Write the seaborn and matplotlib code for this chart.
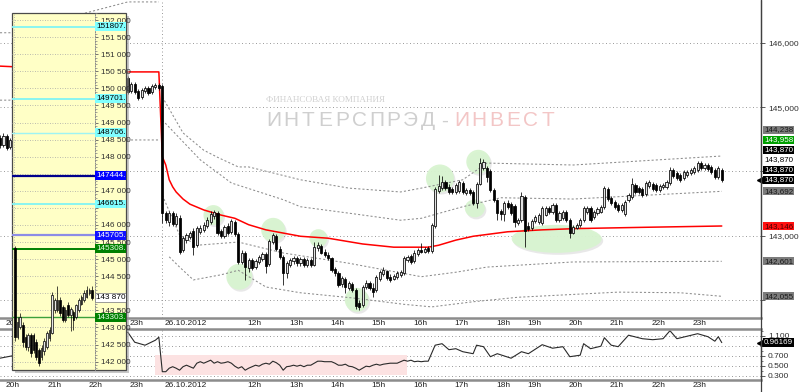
import numpy as np
import matplotlib
matplotlib.use("Agg")
import matplotlib.pyplot as plt
import matplotlib.transforms as mtransforms
from matplotlib.patches import Rectangle, Ellipse
from matplotlib.lines import Line2D
from matplotlib.ticker import FuncFormatter, MultipleLocator, FixedLocator
from matplotlib import font_manager
import seaborn as sns

# ---------------------------------------------------------------- data
# x = 5-minute bar slot; 0 = 26.10.2012 10:00 (12 bars / hour, 18:45-19:00 break)
tick_slots = [-46, -34, -22, -10, 0, 24, 36, 48, 60, 72, 84, 96, 105, 117, 129, 141, 153]
tick_labels = ["20h", "21h", "22h", "23h", "26.10.2012", "12h", "13h", "14h", "15h",
               "16h", "17h", "18h", "19h", "20h", "21h", "22h", "23h"]

prev_slot = [-47, -46, -45, -44, -10, -9, -8, -7, -6, -5, -4, -3, -2, -1]
prev_open = [144520, 144410, 144550, 144380, 145460, 145250, 145360, 145250, 145160, 145250, 145300, 145240, 145320, 145350]
prev_high = [144570, 144600, 144580, 144520, 145490, 145390, 145390, 145280, 145300, 145330, 145330, 145360, 145380, 145380]
prev_low = [144360, 144380, 144330, 144350, 145210, 145220, 145210, 145110, 145130, 145220, 145190, 145210, 145280, 145270]
prev_close = [144410, 144550, 144360, 144490, 145240, 145360, 145240, 145140, 145270, 145300, 145220, 145330, 145350, 145300]

day_open = [
    145330, 143350, 143210, 143350, 143180, 143270, 142780, 142930, 142980, 143070,
    142850, 143060, 143090, 143150, 143210, 143310, 143350, 143070, 142990, 143150,
    143060, 143210, 143030, 142590, 142730, 142500, 142620, 142510, 142590, 142640,
    142710, 142560, 142900, 142990, 142790, 142670, 142420, 142540, 142600, 142650,
    142570, 142640, 142540, 142620, 142540, 142810, 142840, 142740, 142700, 142650,
    142480, 142420, 142250, 142320, 142180, 142250, 142150, 141950, 141920, 142200,
    142260, 142180, 142150, 142320, 142400, 142450, 142360, 142320, 142360, 142390,
    142420, 142620, 142680, 142600, 142710, 142780, 142740, 142810, 142760, 143150,
    143700, 143740, 143840, 143760, 143730, 143680, 143700, 143820, 143660, 143710,
    143680, 143510, 143800, 144050, 144050, 144010, 143710, 143560, 143380, 143340,
    143510, 143490, 143460, 143200, 143240, 143600, 143150, 143120, 143230, 143210,
    143200, 143320, 143430, 143370, 143480, 143240, 143270, 143370, 143240, 143040,
    143120, 143170, 143240, 143370, 143430, 143290, 143350, 143370, 143450, 143730,
    143590, 143520, 143480, 143400, 143340, 143560, 143600, 143790, 143740, 143730,
    143650, 143770, 143800, 143790, 143710, 143760, 143760, 143820, 144020, 143980,
    143940, 143900, 143940, 143980, 143990, 144020, 144130, 144050, 144100, 144070,
    144020, 143910, 144020]
day_close = [
    143350, 143240, 143350, 143180, 143310, 142740, 142960, 143010, 143040, 142820,
    143120, 143120, 143170, 143240, 143340, 143370, 143040, 142990, 143130, 143040,
    143230, 143030, 142590, 142730, 142510, 142620, 142500, 142600, 142670, 142710,
    142530, 142920, 143010, 142790, 142670, 142420, 142570, 142620, 142650, 142570,
    142640, 142540, 142620, 142540, 142820, 142850, 142730, 142700, 142650, 142460,
    142420, 142230, 142340, 142200, 142260, 142150, 141900, 141890, 142200, 142260,
    142180, 142120, 142360, 142430, 142460, 142340, 142310, 142370, 142420, 142430,
    142650, 142670, 142590, 142730, 142780, 142740, 142790, 142760, 143170, 143730,
    143770, 143840, 143740, 143680, 143680, 143790, 143840, 143680, 143710, 143660,
    143510, 143800, 144130, 144150, 143910, 143710, 143560, 143350, 143340, 143510,
    143450, 143350, 143210, 143240, 143620, 143070, 143100, 143230, 143290, 143320,
    143430, 143430, 143370, 143480, 143240, 143350, 143370, 143240, 143040, 143130,
    143170, 143240, 143430, 143430, 143240, 143370, 143420, 143450, 143740, 143570,
    143510, 143450, 143400, 143480, 143520, 143630, 143800, 143680, 143680, 143630,
    143820, 143840, 143730, 143710, 143770, 143790, 143840, 144020, 143930, 143900,
    143870, 143990, 143990, 144020, 144050, 144130, 144050, 144100, 144040, 143990,
    143910, 144050, 143870]
day_high = [
    145360, 143380, 143380, 143380, 143350, 143320, 142990, 143040, 143070, 143120,
    143150, 143170, 143210, 143290, 143380, 143400, 143380, 143100, 143170, 143200,
    143260, 143240, 143060, 142780, 142760, 142650, 142650, 142640, 142700, 142740,
    142740, 142950, 143040, 143030, 142840, 142700, 142600, 142650, 142680, 142680,
    142670, 142670, 142650, 142650, 142900, 142900, 142870, 142790, 142740, 142670,
    142510, 142450, 142370, 142360, 142290, 142280, 142180, 142000, 142230, 142310,
    142290, 142260, 142390, 142460, 142510, 142460, 142400, 142400, 142450, 142460,
    142680, 142700, 142710, 142780, 142810, 142890, 142820, 142840, 143200, 143760,
    143940, 143930, 143870, 143800, 143760, 143820, 143870, 143850, 143740, 143740,
    143710, 143840, 144210, 144190, 144080, 144040, 143740, 143570, 143420, 143540,
    143560, 143520, 143490, 143270, 143680, 143630, 143210, 143260, 143320, 143350,
    143460, 143460, 143460, 143510, 143510, 143380, 143400, 143400, 143270, 143170,
    143200, 143270, 143460, 143460, 143460, 143400, 143450, 143480, 143770, 143760,
    143620, 143560, 143510, 143510, 143560, 143660, 143900, 143820, 143770, 143760,
    143850, 143870, 143840, 143820, 143800, 143820, 143870, 144070, 144050, 144010,
    143980, 144020, 144020, 144050, 144080, 144160, 144160, 144130, 144130, 144100,
    144050, 144080, 144050]
day_low = [
    143200, 143200, 143150, 143150, 143150, 142710, 142740, 142890, 142950, 142700,
    142820, 143030, 143060, 143120, 143180, 143260, 143010, 142960, 142960, 143010,
    143030, 142990, 142560, 142560, 142310, 142430, 142460, 142480, 142560, 142600,
    142420, 142530, 142870, 142760, 142640, 142230, 142340, 142510, 142560, 142530,
    142530, 142510, 142510, 142510, 142530, 142760, 142710, 142670, 142620, 142430,
    142370, 142200, 142200, 142110, 142150, 142120, 141860, 141840, 141890, 142170,
    142150, 142040, 142120, 142290, 142370, 142310, 142280, 142310, 142320, 142360,
    142390, 142590, 142560, 142570, 142680, 142730, 142730, 142730, 142730, 143120,
    143660, 143710, 143710, 143650, 143650, 143650, 143660, 143650, 143630, 143630,
    143480, 143430, 143790, 144020, 143840, 143680, 143520, 143240, 143240, 143230,
    143420, 143320, 143130, 143170, 143210, 142820, 143070, 143090, 143200, 143180,
    143170, 143310, 143340, 143340, 143210, 143210, 143240, 143210, 142960, 143030,
    143100, 143130, 143210, 143340, 143210, 143260, 143320, 143350, 143420, 143540,
    143480, 143420, 143370, 143370, 143310, 143520, 143570, 143650, 143650, 143600,
    143620, 143740, 143700, 143680, 143680, 143730, 143730, 143790, 143900, 143870,
    143840, 143870, 143910, 143940, 143960, 143990, 144020, 144020, 144010, 143960,
    143880, 143880, 143840]

# VWAP (red) and deviation bands (dotted), read at selected bar slots
vwap_k = [-47, -10, -1, 0, 1, 2, 3, 4, 6, 8, 12, 17, 21, 25, 30, 40, 48, 58, 67, 77, 80, 85, 90, 100, 110, 120, 140, 162]
vwap_v = [145640, 145550, 145550, 144230, 144100, 143870, 143760, 143680, 143570, 143490, 143400, 143320, 143270,
          143170, 143090, 142990, 142960, 142870, 142820, 142820, 142850, 142930, 142990, 143060, 143090, 143110, 143130, 143150]
up2_k = [0, 6, 12, 16, 22, 25, 40, 54, 69, 75, 87, 94, 119, 162]
up2_v = [145160, 144600, 144330, 144220, 144070, 144070, 143870, 143740, 143680, 143740, 143870, 144130, 144100, 144240]
up1_k = [0, 11, 20, 35, 40, 54, 69, 75, 87, 98, 119, 162]
up1_v = [144800, 144180, 143820, 143560, 143450, 143350, 143240, 143270, 143450, 143590, 143570, 143690]
lo1_k = [0, 5, 10, 22, 35, 54, 75, 85, 94, 119, 162]
lo1_v = [143630, 143010, 142850, 142900, 142730, 142570, 142360, 142430, 142510, 142590, 142600]
lo2_k = [2, 5, 9, 17, 22, 30, 40, 55, 70, 78, 90, 103, 132, 150, 162]
lo2_v = [142670, 142510, 142310, 142390, 142460, 142200, 142110, 142030, 141930, 141890, 141970, 142040, 142120, 142110, 142055]
prev_up_k = [-47, -44, -10, -1]
prev_up_v = [146160, 146160, 146640, 146640]
prev_lo_k = [-47, -44, -10, -1]
prev_lo_v = [145110, 145110, 144490, 144490]

# price tags on the right scale (bottom -> top)
tag_values = [142055, 142601, 143146, 143692, 143870, 143870, 143870, 143870, 143958, 144238]
tag_fc = ["#7c7c7c", "#7c7c7c", "#ff1010", "#7c7c7c", "#000000", "#000000", "#ffffff", "#000000", "#00a000", "#7c7c7c"]
tag_tc = ["#1a1a1a", "#1a1a1a", "#4a0000", "#1a1a1a", "#ffffff", "#ffffff", "#000000", "#ffffff", "#ffffff", "#1a1a1a"]
tag_arrow = [False, False, False, False, True, False, False, False, False, False]

# lower indicator
ind_k = [-47, -44, -10, -8, -5, -2, -1,
         0, 1, 2, 3, 4, 5, 6, 7, 8, 9, 10, 11, 12, 13, 14, 15, 16, 17, 18, 19, 20, 21, 22, 23, 24,
         25, 26, 27, 28, 29, 30, 31, 32, 33, 34, 35, 36, 37, 38, 39, 40, 41, 42, 43, 44, 45, 46, 47,
         48, 49, 50, 51, 52, 53, 54, 55, 56, 57, 58, 59, 60, 61, 62, 63, 64, 66, 68, 70, 71, 72, 73,
         74, 75, 76, 77, 78, 79, 81, 83, 85, 87, 90, 91, 93, 95, 97, 101, 104, 106, 110, 113, 116,
         118, 121, 122, 124, 127, 128, 130, 132, 135, 139, 142, 145, 147, 149, 155, 158, 160, 161, 162]
ind_v = [0.65, 0.69, 1.17, 0.97, 0.91, 1.01, 1.07,
         0.38, 0.38, 0.45, 0.48, 0.45, 0.41, 0.48, 0.51, 0.48, 0.45, 0.55, 0.58, 0.55, 0.58, 0.61, 0.55,
         0.58, 0.55, 0.56, 0.58, 0.55, 0.49, 0.45, 0.48, 0.41,
         0.45, 0.48, 0.51, 0.49, 0.53, 0.55, 0.53, 0.59, 0.56, 0.51, 0.41, 0.48, 0.49, 0.51, 0.49, 0.51,
         0.48, 0.51, 0.51, 0.55, 0.59, 0.59, 0.58,
         0.58, 0.58, 0.55, 0.51, 0.51, 0.53, 0.49, 0.48, 0.45, 0.41, 0.45, 0.49, 0.48, 0.51, 0.53, 0.51,
         0.53, 0.55, 0.55, 0.61, 0.59, 0.61, 0.58,
         0.59, 0.58, 0.59, 0.59, 0.75, 0.91, 0.94, 0.82, 0.84, 0.78, 0.74, 0.91, 0.88, 0.68, 0.74, 0.65,
         0.78, 0.74, 0.92, 0.85, 0.88,
         0.68, 0.71, 0.94, 0.84, 0.89, 1.06, 0.91, 0.88, 1.11, 1.04, 1.02, 1.04, 1.20, 1.04, 1.14, 1.08,
         0.99, 1.08, 0.96169]
ind_last = 0.96169

# inset (yellow panel)
inset_open = [145330, 142730, 143020, 143070, 142730, 142440, 142780, 142780, 142580, 142340, 142150, 142300, 142440, 142700, 142840,
              143500, 143510, 143800, 143600, 143220, 143660, 143360, 143450, 143300, 143500, 143700, 143800, 143900, 144000, 144100]
inset_close = [142730, 143170, 143320, 142580, 142440, 142780, 142240, 142340, 142150, 141950, 142400, 142600, 142840, 142930, 143950,
               143800, 143800, 143420, 143220, 143500, 143360, 143550, 143220, 143660, 143800, 143900, 144000, 144100, 144100, 143870]
inset_high = [145380, 143320, 143420, 143170, 142800, 142850, 142850, 142850, 142650, 142400, 142480, 142680, 142900, 143000, 144050,
              143850, 144210, 143900, 143650, 143600, 143750, 143600, 143500, 143700, 143850, 143950, 144100, 144200, 144150, 144200]
inset_low = [142600, 142650, 142950, 142440, 142350, 142300, 142150, 142250, 142050, 141870, 142050, 142200, 142380, 142600, 142800,
             143420, 143450, 143350, 143150, 143150, 143300, 142900, 142930, 143250, 143450, 143650, 143750, 143850, 143950, 143800]
inset_levels = [151807, 149701, 148706, 147444, 146615, 145705, 145308, 143303]
inset_level_text = ["151807.", "149701.", "148706.", "147444.", "146615.", "145705.", "145308.", "143303."]
inset_level_color = ["#80f4f4", "#80f4f4", "#9ef4f4", "#00008c", "#80f4f4", "#8c8ce6", "#008000", "#3ca03c"]
inset_level_lw = [1.3, 1.3, 1.0, 1.6, 1.3, 1.6, 1.4, 1.0]
inset_tag_fc = ["#80ffff", "#80ffff", "#80ffff", "#0000ff", "#80ffff", "#1010ff", "#008000", "#008000"]
inset_tag_tc = ["#000000", "#000000", "#000000", "#ffffff", "#000000", "#ffffff", "#e8ffe8", "#e8ffe8"]
inset_last = 143870

# annotations: green highlight circles (slot, price, rx px, ry px)
circles = [(14.8, 143320, 10, 10), (32.1, 143090, 12, 12), (22.3, 142360, 13, 13), (45.2, 142960, 9, 9),
           (56.3, 142000, 12, 12), (80.4, 143890, 14, 14), (91.5, 144150, 12, 12), (90.5, 143425, 10, 9),
           (114.2, 142950, 45, 14)]

# watermark text
wm_small = "ФИНАНСОВАЯ КОМПАНИЯ"
wm_grey = "ИНТЕРСПРЭД-"
wm_red = "ИНВЕСТ"

# ---------------------------------------------------------------- style
sns.set_style("white")
installed = {f.name for f in font_manager.fontManager.ttflist}
BASE = [f for f in ["Liberation Sans"] if f in installed] + ["DejaVu Sans"]
NARROW = (["Liberation Sans Narrow"] if "Liberation Sans Narrow" in installed else []) + BASE
SERIF = [f for f in ["Liberation Serif"] if f in installed] + ["DejaVu Serif"]
plt.rcParams["font.family"] = BASE

W, H = 800, 392
fig = plt.figure(figsize=(W / 100, H / 100), dpi=100)
fig.patch.set_facecolor("white")


def rect(x0, y0, x1, y1):
    return [x0 / W, 1 - y1 / H, (x1 - x0) / W, (y1 - y0) / H]


ax = fig.add_axes(rect(0, 0, 761, 318))
ax2 = fig.add_axes(rect(0, 329, 761, 380))
XL = (-47.0, 173.36)
YL = (141717, 146670)
ax.set_xlim(XL)
ax.set_ylim(YL)
ax2.set_xlim(XL)
ax2.set_ylim(0.214, 1.234)

GRID = dict(color="#9a9a9a", lw=0.7, ls=(0, (1, 2.6)), zorder=0.6)
FS = 6.0
TAG_FS = 5.8


def candles(a, x, o, h, l, c, width, up_fc, lw, z=3.0):
    x = np.asarray(x, float)
    o, h, l, c = (np.asarray(v, float) for v in (o, h, l, c))
    up = c >= o
    a.vlines(x, l, h, colors="#000000", lw=lw, zorder=z)
    lo_ = np.minimum(o, c)
    minh = (a.get_ylim()[1] - a.get_ylim()[0]) * 0.004
    ht = np.maximum(np.abs(c - o), minh)
    a.bar(x, ht, width=width, bottom=lo_, color=list(np.where(up, up_fc, "#000000")),
          edgecolor="#000000", linewidth=lw, zorder=z + 0.1)


def xlabels(a):
    a.set_xticks(tick_slots)
    a.set_xticklabels([])
    a.tick_params(axis="x", direction="out", length=3, width=0.7, color="#303030")
    for s, lab in zip(tick_slots, tick_labels):
        a.annotate(lab, xy=(s, 0), xycoords=("data", "axes fraction"), xytext=(1.6, -1.2),
                   textcoords="offset points", ha="left", va="top", fontsize=FS, color="#202020",
                   annotation_clip=False)


def side_tags(a, values, fcs, tcs, arrows, fmt, spacing=10.0):
    """Stack value tags on the right scale; return their pixel heights."""
    tr = mtransforms.blended_transform_factory(a.transAxes, a.transData)
    prev = None
    placed = []
    for v, fc, tc, arw in zip(values, fcs, tcs, arrows):
        ypx = a.transData.transform((0, v))[1]
        if prev is not None and ypx < prev + spacing:
            ypx = prev + spacing
        prev = ypx
        placed.append(ypx)
        yd = a.transData.inverted().transform((0, ypx))[1]
        a.text(1.004, yd, fmt(v), transform=tr, ha="left", va="center", fontsize=TAG_FS, color=tc,
               bbox=dict(boxstyle="square,pad=0.08", fc=fc, ec="none"), clip_on=False, zorder=10)
        if arw:
            a.plot([0.999], [yd], transform=tr, marker="<", ms=4.5, color=fc, clip_on=False, zorder=10)
    return placed


def covered_formatter(a, placed_px, fmt, gap=4.5):
    """Tick labels that sit under a value tag are hidden, as on the original terminal."""
    def f(v, p):
        ypx = a.transData.transform((0, v))[1]
        if any(abs(ypx - t) < gap for t in placed_px):
            return ""
        return fmt(v)
    return FuncFormatter(f)


# ---------------------------------------------------------------- main panel
for v in range(142000, 146001, 1000):
    ax.axhline(v, **GRID)
ax.axvline(0, **GRID)

sx = (XL[1] - XL[0]) / 761.0
sy = (YL[1] - YL[0]) / 318.0
for cx, cy, rx, ry in circles:
    ax.add_patch(Ellipse((cx + 1.5 * sx, cy - 2.0 * sy), 2 * rx * sx, 2 * ry * sy, fc="#b4b4b4",
                         ec="none", alpha=0.3, zorder=0.7))
    ax.add_patch(Ellipse((cx, cy), 2 * rx * sx, 2 * ry * sy, fc="#d8f4d0", ec="none", alpha=0.95, zorder=0.8))

# watermark (letter-spaced, one letter per text so that the spacing matches)
ax.text(326 / 761, 1 - 100 / 318, wm_small, transform=ax.transAxes, ha="center", va="center",
        fontsize=6.6, family=SERIF, color="#d0d0d0", zorder=0.55)
for i, ch in enumerate(wm_grey + wm_red):
    col = "#cfcfcf" if i < len(wm_grey) else "#f3c6c6"
    ax.text((274 + i * 17.1) / 761, 1 - 121 / 318, ch, transform=ax.transAxes, ha="center", va="center",
            fontsize=15, family=NARROW, color=col, zorder=0.55)

BAND = dict(color="#8c8c8c", lw=0.75, ls=(0, (2, 2)))
for xs, ys in [(up2_k, up2_v), (up1_k, up1_v), (lo1_k, lo1_v), (lo2_k, lo2_v),
               (prev_up_k, prev_up_v), (prev_lo_k, prev_lo_v)]:
    sns.lineplot(x=xs, y=ys, ax=ax, estimator=None, sort=False, zorder=1, **BAND)
sns.lineplot(x=vwap_k, y=vwap_v, ax=ax, estimator=None, sort=False, color="#ff0000", lw=1.1, zorder=2)

candles(ax, prev_slot, prev_open, prev_high, prev_low, prev_close, 0.62, "#e2e2e2", 0.55)
candles(ax, np.arange(len(day_open)), day_open, day_high, day_low, day_close, 0.62, "#e2e2e2", 0.55)

ax.set_xlabel("")
ax.set_ylabel("")
ax.yaxis.tick_right()
ax.yaxis.set_major_locator(FixedLocator(list(range(142000, 146001, 1000))))
ax.tick_params(axis="y", direction="out", length=3, width=0.6, color="#404040", labelsize=FS,
               labelcolor="#303030", pad=2)
xlabels(ax)
for s in ["left", "top"]:
    ax.spines[s].set_visible(False)
ax.spines["right"].set_color("#404040")
ax.spines["right"].set_linewidth(0.9)
ax.spines["bottom"].set_color("#8c8c8c")
ax.spines["bottom"].set_linewidth(1.8)

placed_main = side_tags(ax, tag_values, tag_fc, tag_tc, tag_arrow, lambda v: f"{v:,}")
ax.yaxis.set_major_formatter(covered_formatter(ax, placed_main, lambda v: f"{int(round(v)):,}"))

# ---------------------------------------------------------------- lower panel
for v in [0.3, 0.5, 0.7, 0.9, 1.1]:
    ax2.axhline(v, **GRID)
ax2.axvline(0, **GRID)
ax2.add_patch(Rectangle((-2.1, 0.314), 73.0, 0.40, fc="#fce2e2", ec="none", zorder=0.7))
sns.lineplot(x=ind_k, y=ind_v, ax=ax2, estimator=None, sort=False, color="#2a2a2a", lw=0.8, zorder=2)
ax2.set_xlabel("")
ax2.set_ylabel("")
ax2.yaxis.tick_right()
ax2.yaxis.set_major_locator(FixedLocator([0.3, 0.5, 0.7, 0.9, 1.1]))
ax2.yaxis.set_minor_locator(MultipleLocator(0.1))
ax2.tick_params(axis="y", which="major", direction="out", length=3, width=0.6, color="#404040",
                labelsize=FS, labelcolor="#303030", pad=2)
ax2.tick_params(axis="y", which="minor", direction="out", length=1.5, width=0.5, color="#404040")
xlabels(ax2)
ax2.spines["left"].set_visible(False)
for s in ["top", "bottom"]:
    ax2.spines[s].set_color("#8c8c8c")
    ax2.spines[s].set_linewidth(1.8)
ax2.spines["right"].set_color("#404040")
ax2.spines["right"].set_linewidth(0.9)
placed_low = side_tags(ax2, [ind_last], ["#000000"], ["#ffffff"], [True], lambda v: f"{v:.5f}")
ax2.yaxis.set_major_formatter(covered_formatter(ax2, placed_low, lambda v: f"{v:.3f}"))

fig.add_artist(Line2D([761 / W, 761 / W], [0, 1], transform=fig.transFigure, color="#404040", lw=0.9, zorder=1))

# ---------------------------------------------------------------- inset panel
fig.add_artist(Rectangle((15 / W, 1 - 373 / H), 114 / W, 357 / H, transform=fig.transFigure,
                         fc="#9c9c9c", ec="none", alpha=0.55, zorder=2.8))
fig.add_artist(Rectangle((12 / W, 1 - 370 / H), 114 / W, 357 / H, transform=fig.transFigure,
                         fc="#ffffc6", ec="#4a4a4a", lw=0.9, zorder=2.9))
axi = fig.add_axes(rect(12, 13, 95, 370))
axi.set_zorder(3.5)
axi.patch.set_visible(False)
axi.set_xlim(-1.12, 30.13)
axi.set_ylim(141756, 152205)
for v in range(142000, 152001, 500):
    axi.axhline(v, color="#a6a6a6", lw=0.6, ls=(0, (1, 2)), zorder=0.5)
axi.axvline(-0.5, color="#a6a6a6", lw=0.6, ls=(0, (1, 2)), zorder=0.5)
candles(axi, np.arange(len(inset_open)), inset_open, inset_high, inset_low, inset_close, 0.6, "#e6e6e6", 0.5)
axi.set_xticks([])
axi.yaxis.tick_right()
axi.yaxis.set_major_locator(MultipleLocator(500))
axi.yaxis.set_minor_locator(MultipleLocator(100))
axi.tick_params(axis="y", which="major", direction="out", length=2.5, width=0.6, color="#606060",
                labelsize=5.9, labelcolor="#303030", pad=2, labelfontfamily=NARROW[0])
axi.tick_params(axis="y", which="minor", direction="out", length=1.2, width=0.5, color="#808080")
for s in ["left", "top", "bottom"]:
    axi.spines[s].set_visible(False)
axi.spines["right"].set_color("#8a8a8a")
axi.spines["right"].set_linestyle((0, (1, 1.5)))
axi.spines["right"].set_linewidth(0.7)

clipbox = mtransforms.TransformedBbox(mtransforms.Bbox.from_extents(12 / W, 1 - 370 / H, 126 / W, 1 - 13 / H),
                                      fig.transFigure)
tri = mtransforms.blended_transform_factory(axi.transAxes, axi.transData)


def inset_tag(value, txt, fc, tc, ec="none"):
    t = axi.text(1.012, value, txt, transform=tri, ha="left", va="center", fontsize=5.9, family=NARROW,
                 color=tc, bbox=dict(boxstyle="square,pad=0.12", fc=fc, ec=ec, lw=0.6), zorder=6)
    t.set_clip_path(None)
    t.set_clip_box(clipbox)
    t.set_clip_on(True)


for lvl, txt, lc, lw, bg, tc in zip(inset_levels, inset_level_text, inset_level_color, inset_level_lw,
                                    inset_tag_fc, inset_tag_tc):
    axi.axhline(lvl, color=lc, lw=lw, zorder=2)
    inset_tag(lvl, txt, bg, tc)
inset_tag(inset_last, f"{inset_last:,}".replace(",", " "), "#ffffff", "#000000", ec="#8a8a8a")

placed_inset = [axi.transData.transform((0, v))[1] for v in inset_levels + [inset_last]]
axi.yaxis.set_major_formatter(covered_formatter(axi, placed_inset,
                                                lambda v: f"{int(round(v)):,}".replace(",", " "), gap=5.0))

fig.savefig("out.png", dpi=100)
